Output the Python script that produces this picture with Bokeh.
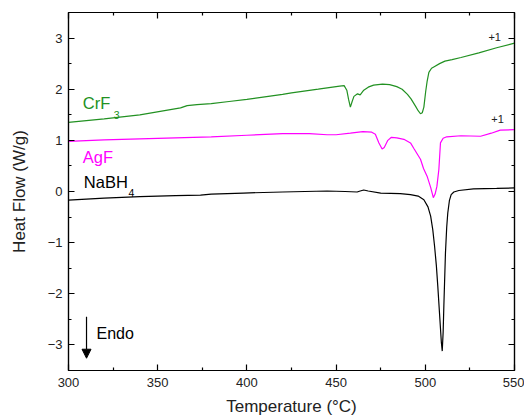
from bokeh.plotting import figure
from bokeh.models import LinearAxis, Range1d, Label, Arrow, NormalHead, FixedTicker
from bokeh.embed import file_html
from bokeh.resources import INLINE

# ---- data ----
crf3_t = [300, 320, 340, 362.8, 366.5, 372, 380, 390, 400, 410, 420, 425, 440, 452, 454.5,
          456, 457, 458, 459, 460, 462, 463.5, 465.5, 468, 471, 476, 480, 484, 487, 490,
          492, 494.5, 496, 497.3, 498.3, 499.2, 500.2, 501, 502, 503.5, 505, 508, 511,
          515, 520, 530, 540, 550]
crf3_v = [1.35, 1.42, 1.50, 1.635, 1.68, 1.70, 1.72, 1.76, 1.80, 1.85, 1.90, 1.93, 2.00, 2.06, 2.07,
          1.98, 1.80, 1.65, 1.76, 1.86, 1.91, 1.89, 1.98, 2.04, 2.08, 2.10, 2.09, 2.05, 2.00, 1.90,
          1.81, 1.67, 1.58, 1.52, 1.54, 1.65, 1.95, 2.15, 2.33, 2.41, 2.44, 2.50, 2.55,
          2.58, 2.62, 2.71, 2.81, 2.90]

agf_t = [300, 320, 340, 360, 380, 400, 420, 435, 445, 450, 458, 465, 470, 472, 474, 475.8,
         477, 479, 481, 484, 488, 491.7, 493.6, 497.3, 499, 501, 503, 504.5, 505.5, 506.5,
         507.6, 508.5, 510, 512, 520, 531, 537, 542, 550]
agf_v = [0.98, 1.01, 1.03, 1.05, 1.07, 1.10, 1.13, 1.13, 1.11, 1.11, 1.14, 1.17, 1.16, 1.12, 0.95, 0.83,
         0.86, 1.00, 1.06, 1.05, 1.02, 0.95, 0.84, 0.63, 0.45, 0.30, 0.08, -0.12, -0.05, 0.10,
         0.43, 0.95, 1.04, 1.07, 1.09, 1.08, 1.14, 1.20, 1.21]

nabh4_t = [300, 320, 340, 360, 374, 380, 398, 420, 445, 455, 461.8, 463.5, 465.5, 468, 475,
           486, 491.7, 496, 499.2, 501.5, 503, 504.2, 505.2, 506.2, 507, 508, 509, 509.5,
           510, 510.4, 511.3, 512, 512.6, 513.5, 514.5, 516, 518.8, 527, 540, 550]
nabh4_v = [-0.17, -0.13, -0.10, -0.08, -0.07, -0.05, -0.03, -0.01, 0.01, 0.00, -0.01, 0.01, 0.03, 0.01, -0.03,
           -0.04, -0.06, -0.09, -0.16, -0.30, -0.48, -0.75, -1.07, -1.45, -1.85, -2.40, -2.95, -3.12,
           -2.75, -2.24, -1.20, -0.70, -0.42, -0.18, -0.06, -0.01, 0.02, 0.05, 0.06, 0.07]

x_ticks = [300, 350, 400, 450, 500, 550]
x_minor = [325, 375, 425, 475, 525]
y_ticks = [-3, -2, -1, 0, 1, 2, 3]
y_minor = [-2.5, -1.5, -0.5, 0.5, 1.5, 2.5]

GREEN = "#229122"
MAGENTA = "#ff00ff"
FONT = "Liberation Sans"

p = figure(width=524, height=418, output_backend="svg", toolbar_location=None,
           x_range=Range1d(300, 550), y_range=Range1d(-3.5, 3.5),
           min_border_left=68, min_border_right=10, min_border_top=12, min_border_bottom=47)
p.grid.visible = False
p.outline_line_color = "black"
p.outline_line_width = 1.2
p.background_fill_color = "white"
p.border_fill_color = "white"

p.line(crf3_t, crf3_v, line_color=GREEN, line_width=1.2)
p.line(agf_t, agf_v, line_color=MAGENTA, line_width=1.2)
p.line(nabh4_t, nabh4_v, line_color="black", line_width=1.2)


def style_axis(ax, show_labels=True):
    ax.axis_line_color = "black"
    ax.axis_line_width = 1.2
    ax.major_tick_in = 6
    ax.major_tick_out = 0
    ax.minor_tick_in = 3
    ax.minor_tick_out = 0
    ax.major_tick_line_color = "black"
    ax.minor_tick_line_color = "black"
    ax.major_tick_line_width = 1.2
    ax.minor_tick_line_width = 1.2
    ax.major_label_text_font = FONT
    ax.major_label_text_color = "#222222"
    ax.axis_label_text_font = FONT
    ax.axis_label_text_font_style = "normal"
    ax.axis_label_text_color = "#222222"
    if not show_labels:
        ax.major_label_text_color = None
        ax.major_label_text_font_size = "1px"
        ax.major_label_standoff = 0


xa = p.xaxis[0]
xa.ticker = FixedTicker(ticks=x_ticks, minor_ticks=x_minor)
style_axis(xa)
xa.major_label_text_font_size = "13px"
xa.major_label_standoff = 7
xa.axis_label = "Temperature (°C)"
xa.axis_label_text_font_size = "17px"
xa.axis_label_standoff = 7

ya = p.yaxis[0]
ya.ticker = FixedTicker(ticks=y_ticks, minor_ticks=y_minor)
style_axis(ya)
ya.major_label_text_font_size = "13px"
ya.major_label_standoff = 6
ya.axis_label = "Heat Flow (W/g)"
ya.axis_label_text_font_size = "17px"
ya.axis_label_standoff = 16

top = LinearAxis(ticker=FixedTicker(ticks=x_ticks, minor_ticks=x_minor))
style_axis(top, show_labels=False)
p.add_layout(top, "above")
right = LinearAxis(ticker=FixedTicker(ticks=y_ticks, minor_ticks=y_minor))
style_axis(right, show_labels=False)
p.add_layout(right, "right")

# series labels
labels = [
    ("CrF", 308.0, 1.74, GREEN, "16.5px"),
    ("3", 325.4, 1.50, GREEN, "10.5px"),
    ("AgF", 308.0, 0.68, MAGENTA, "16.5px"),
    ("NaBH", 308.6, 0.18, "black", "16.5px"),
    ("4", 333.6, -0.02, "black", "10.5px"),
    ("Endo", 315.7, -2.77, "black", "16px"),
]
for txt, lx, ly, col, fs in labels:
    p.add_layout(Label(x=lx, y=ly, text=txt, text_color=col, text_font=FONT,
                       text_font_size=fs, text_baseline="middle", text_align="left"))

for lx, ly in [(542.4, 3.03), (544.0, 1.41)]:
    p.add_layout(Label(x=lx, y=ly, text="+1", text_color="#222222", text_font=FONT,
                       text_font_size="11px", text_baseline="middle", text_align="right"))

p.add_layout(Arrow(x_start=310.1, y_start=-2.45, x_end=310.1, y_end=-3.26,
                   line_color="black", line_width=1.2,
                   end=NormalHead(size=9, fill_color="black", line_color="black")))

open("out.html", "w").write(file_html(p, INLINE))
